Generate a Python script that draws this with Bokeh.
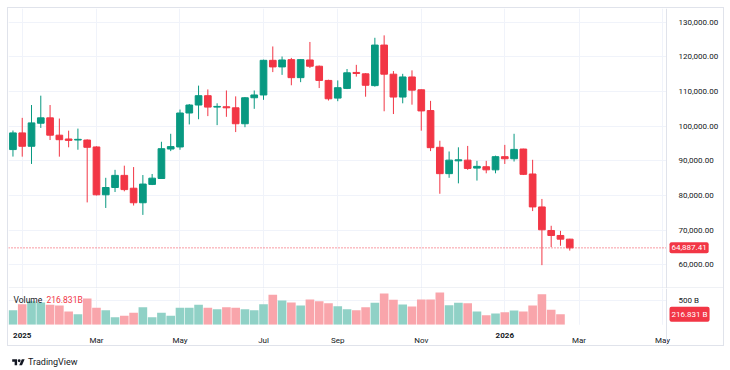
from bokeh.plotting import figure
from bokeh.layouts import column, row
from bokeh.models import (ColumnDataSource, FixedTicker, NumeralTickFormatter,
                          Range1d, Span, Label, Div, Spacer, BoxAnnotation)
from bokeh.embed import file_html
from bokeh.resources import INLINE

# ---------------- data: weekly candles, week of Dec 30 2024 .. week of Feb 23 2026 ----------------
opens = [93250, 98060, 94200, 100850, 102400, 97400, 96300, 96000, 96000, 94000,
         80200, 82300, 85800, 82100, 77900, 83200, 84900, 93400, 94000, 103800,
         106100, 108800, 105500, 105600, 105300, 100700, 108200, 109000, 119000, 117100,
         119200, 114000, 119100, 117300, 113200, 108100, 110900, 115500, 115100, 111700,
         123400, 115000, 108400, 114200, 110500, 104500, 93900, 86300, 90000, 90200,
         87900, 88300, 87400, 91200, 90600, 93400, 86200, 76700, 69900, 68460, 67400]
highs = [98740, 102400, 106100, 108800, 106100, 102200, 98700, 99300, 96200, 94200,
         85100, 87400, 88600, 88200, 85900, 86200, 95500, 97800, 104800, 106400,
         111700, 110600, 106600, 110300, 108600, 108400, 110300, 119200, 123000, 120100,
         119700, 119300, 124300, 117500, 113400, 113200, 116500, 117700, 115300, 125500,
         126200, 115900, 115100, 116100, 110600, 107300, 95800, 92700, 93900, 94300,
         90000, 90000, 91500, 94600, 97800, 93500, 90300, 79000, 71260, 69800, 67500]
lows = [91230, 91200, 89100, 99500, 96000, 91200, 93900, 93200, 78000, 80000,
        76400, 81000, 81200, 77100, 74400, 83000, 84900, 92800, 93200, 100500,
        102000, 102900, 100300, 102700, 98300, 99700, 105000, 107600, 115600, 114800,
        111800, 112700, 116800, 111000, 107400, 107200, 110700, 114300, 108500, 111400,
        104300, 103500, 106600, 106200, 98700, 92800, 80500, 85100, 83500, 87400,
        84300, 86400, 86400, 89100, 89800, 85900, 75500, 59900, 65100, 65500, 64100]
closes = [98060, 94200, 100950, 102400, 97400, 96100, 95900, 96200, 93900, 80200,
          82300, 85800, 81700, 77900, 83300, 85000, 93500, 94100, 103800, 106100,
          108800, 105500, 105700, 105300, 100700, 108200, 109000, 119000, 117100, 119100,
          114000, 119200, 117300, 113200, 107900, 111100, 115400, 115200, 111800, 123400,
          115000, 108400, 114200, 110400, 104400, 93800, 86300, 90200, 90300, 87800,
          88400, 87400, 91200, 90600, 93300, 86100, 76700, 70100, 68460, 67400, 64887.41]
# volume in billions (the just-opened last week shows no bar)
volumes = [301, 424, 486, 459, 412, 398, 274, 218, 542, 350,
           301, 157, 185, 247, 363, 157, 247, 185, 350, 350,
           412, 350, 321, 363, 350, 321, 301, 424, 618, 500,
           459, 398, 521, 486, 445, 384, 321, 301, 363, 453,
           645, 515, 418, 377, 521, 521, 665, 404, 453, 445,
           274, 198, 233, 260, 295, 274, 398, 630, 309, 216.831]

price_ticks = [60000, 70000, 80000, 90000, 100000, 110000, 120000, 130000]
time_ticks = [1, 9, 18, 27, 35, 44, 53, 61, 70]
time_labels = ["2025", "Mar", "May", "Jul", "Sep", "Nov", "2026", "Mar", "May"]
year_ticks = [1, 53]
volume_ticks = [500]

# ---------------- style ----------------
UP, DOWN = "#089981", "#F23645"
UP_V, DOWN_V = "#90D1C6", "#F9A5AB"
GRID = "#F0F3FA"
BORDER = "#E0E3EB"
TEXT = "#131722"
FONT = "Roboto"
FS = "8px"

W = 715            # inner width of the widget
PX_BAR = 9.28      # pixels per weekly bar
X0 = -0.48
x_range = Range1d(X0, X0 + W / PX_BAR)
AXIS_X = X0 + 658 / PX_BAR   # where the price scale begins

n = len(closes)
xs = list(range(n))
colors = [UP if c >= o else DOWN for o, c in zip(opens, closes)]
src = ColumnDataSource(dict(
    x=xs, high=highs, low=lows,
    top=[max(o, c) for o, c in zip(opens, closes)],
    bottom=[min(o, c) for o, c in zip(opens, closes)],
    color=colors))
nv = len(volumes)
vsrc = ColumnDataSource(dict(
    x=xs[:nv], vol=volumes,
    color=[UP_V if closes[i] >= opens[i] else DOWN_V for i in range(nv)]))


def style_axis(a):
    a.major_tick_line_color = None
    a.minor_tick_line_color = None
    a.major_label_text_font = FONT
    a.major_label_text_font_size = FS
    a.major_label_text_color = TEXT


# ---------------- price pane ----------------
PH = 280
P_TOP = 133953
P_PPU = 242.6 / 70000          # pixels per dollar
p = figure(width=W, height=PH, output_backend="svg", toolbar_location=None,
           x_range=x_range, y_range=Range1d(P_TOP - PH / P_PPU, P_TOP),
           y_axis_location="right",
           min_border_left=0, min_border_right=0, min_border_top=0, min_border_bottom=0)
p.outline_line_color = None
p.xaxis.visible = False
p.xgrid.ticker = FixedTicker(ticks=time_ticks)
p.ygrid.ticker = FixedTicker(ticks=price_ticks)
p.xgrid.grid_line_color = GRID
p.ygrid.grid_line_color = GRID

ax = p.yaxis[0]
ax.fixed_location = AXIS_X
ax.ticker = FixedTicker(ticks=price_ticks)
ax.formatter = NumeralTickFormatter(format="0,0.00")
ax.axis_line_color = BORDER
ax.major_label_standoff = 6
style_axis(ax)

p.segment(x0="x", y0="high", x1="x", y1="low", color="color", line_width=1, source=src)
p.vbar(x="x", width=0.72, top="top", bottom="bottom", fill_color="color",
       line_color="color", line_width=1, source=src)

last = closes[-1]
p.add_layout(Span(location=last, dimension="width", line_color=DOWN,
                  line_dash="1 2", line_width=1, level="underlay"))
# blank the price-scale strip (hides grid / price line there)
p.add_layout(BoxAnnotation(left=AXIS_X, fill_color="white", fill_alpha=1,
                           line_color=None, level="glyph"))
# separator between the panes
p.add_layout(BoxAnnotation(top=P_TOP - (PH - 1) / P_PPU, fill_color=BORDER,
                           fill_alpha=1, line_color=None))
p.add_layout(Label(x=AXIS_X, y=last, x_offset=3, text=f"{last:,.2f}",
                   text_align="left", text_baseline="middle",
                   text_font=FONT, text_font_size=FS, text_color="white",
                   background_fill_color=DOWN, padding=(2, 3), border_radius=2))

# ---------------- volume pane ----------------
VH = 57
VPP = 500 / 24.3               # billions per pixel
V_TOP = 36.3 * VPP
v = figure(width=W, height=VH, output_backend="svg", toolbar_location=None,
           x_range=x_range, y_range=Range1d(V_TOP - VH * VPP, V_TOP),
           y_axis_location="right",
           min_border_left=0, min_border_right=0, min_border_top=0, min_border_bottom=0)
v.outline_line_color = None
v.xgrid.ticker = FixedTicker(ticks=time_ticks)
v.ygrid.ticker = FixedTicker(ticks=volume_ticks)
v.xgrid.grid_line_color = GRID
v.ygrid.grid_line_color = GRID
v.vbar(x="x", width=0.93, top="vol", bottom=0, fill_color="color",
       line_color=None, source=vsrc)
v.add_layout(BoxAnnotation(left=AXIS_X, fill_color="white", fill_alpha=1,
                           line_color=None, level="glyph"))
v.add_layout(BoxAnnotation(top=0, fill_color="white", fill_alpha=1,
                           line_color=None, level="glyph"))

xa = v.xaxis[0]
xa.fixed_location = 0
xa.ticker = FixedTicker(ticks=time_ticks)
xa.major_label_overrides = {t: ("" if t in year_ticks else l)
                            for t, l in zip(time_ticks, time_labels)}
xa.axis_line_color = None
xa.major_label_standoff = 5
style_axis(xa)

ya = v.yaxis[0]
ya.fixed_location = AXIS_X
ya.ticker = FixedTicker(ticks=volume_ticks)
ya.major_label_overrides = {t: f"{t} B" for t in volume_ticks}
ya.axis_line_color = BORDER
ya.major_label_standoff = 6
style_axis(ya)

for t, l in zip(time_ticks, time_labels):
    if t in year_ticks:
        v.add_layout(Label(x=t, y=-10.3 * VPP, text=l, text_align="center",
                           text_baseline="middle", text_font=FONT, text_font_size=FS,
                           text_font_style="bold", text_color=TEXT))

lastv = volumes[-1]
v.add_layout(Label(x=X0, y=V_TOP - 11 * VPP, x_offset=5, text="Volume",
                   text_align="left", text_baseline="middle", text_font=FONT,
                   text_font_size="8.5px", text_color=TEXT))
v.add_layout(Label(x=X0, y=V_TOP - 11 * VPP, x_offset=38, text=f"{lastv:.3f}B",
                   text_align="left", text_baseline="middle", text_font=FONT,
                   text_font_size="8.5px", text_color=DOWN))
v.add_layout(Label(x=AXIS_X, y=lastv, x_offset=3, text=f"{lastv:.3f} B",
                   text_align="left", text_baseline="middle",
                   text_font=FONT, text_font_size=FS, text_color="white",
                   background_fill_color=DOWN, padding=(2, 3), border_radius=2))

logo = Div(width=200, height=22, text=(
    '<div style="display:flex;align-items:center;height:22px;font-family:Roboto;'
    'font-size:9px;color:#131722;">'
    '<svg width="13" height="7" viewBox="0 0 36 20" style="margin-right:3px">'
    '<path d="M14 18H7V8H0V1h14v17z" fill="#131722"/>'
    '<circle cx="20" cy="5" r="4" fill="#131722"/>'
    '<path d="M28 18h-8L27.5 1h8L28 18z" fill="#131722"/></svg>TradingView</div>'))

chart = column(p, v, styles={"border": f"1px solid {BORDER}"})
layout = row(Spacer(width=7), column(Spacer(height=7), chart, logo))

open("out.html", "w").write(file_html(layout, INLINE))
